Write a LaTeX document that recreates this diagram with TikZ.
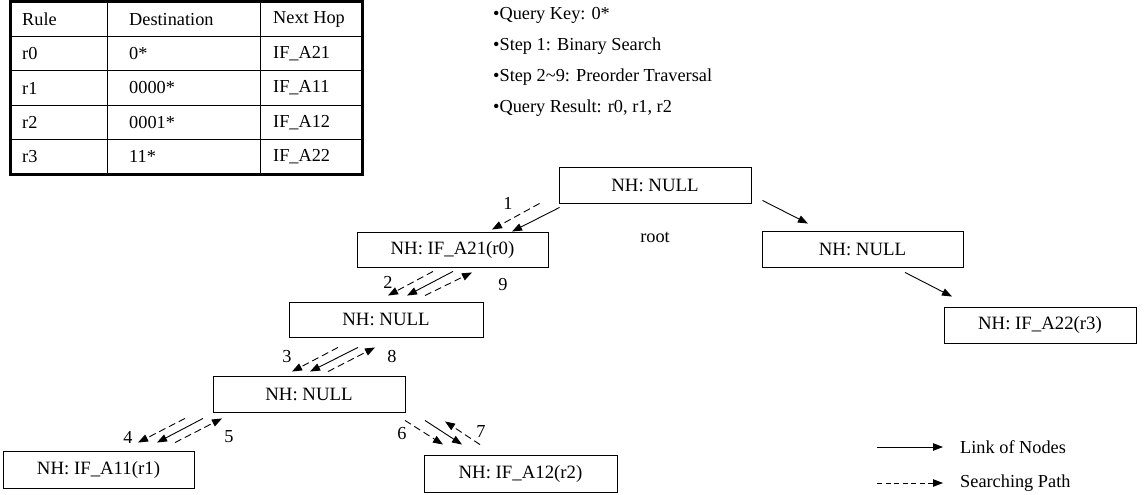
\documentclass[tikz,border=0pt]{standalone}
\usepackage{fontspec}
\setmainfont{Liberation Serif}
\usetikzlibrary{arrows.meta,calc}
\begin{document}
\begin{tikzpicture}[x=1pt,y=-1pt,
  every node/.style={font=\fontsize{18.3}{22}\selectfont, inner sep=0pt},
  treenode/.style={draw, line width=0.9pt, minimum height=36pt, font=\fontsize{18.8}{22}\selectfont},
  cell/.style={anchor=west},
  bullet/.style={anchor=west},
  link/.style={line width=0.9pt, -{Triangle[length=10pt,width=7.5pt]}},
  search/.style={link, dash pattern=on 7pt off 4pt},
  steplabel/.style={}]
\useasboundingbox (0,0) rectangle (1146,495);

% rule table
\draw[line width=0.9pt] (10,36.4) -- (362,36.4) (10,70.8) -- (362,70.8)
  (10,105.2) -- (362,105.2) (10,139.6) -- (362,139.6)
  (107,2) -- (107,174) (260,2) -- (260,174);
\draw[line width=3pt] (10,2) rectangle (362,174);
\node[cell] (h1) at (22,19.2) {Rule};
\node[cell] (h2) at (129,19.2) {Destination};
\node[cell] (h3) at (273,19.2) {Next Hop};
\node[cell] (a1) at (22,53.6) {r0};
\node[cell] (a2) at (129,53.6) {0*};
\node[cell] (a3) at (273,53.6) {IF\_A21};
\node[cell] (b1) at (22,88) {r1};
\node[cell] (b2) at (129,88) {0000*};
\node[cell] (b3) at (273,88) {IF\_A11};
\node[cell] (c1) at (22,122.4) {r2};
\node[cell] (c2) at (129,122.4) {0001*};
\node[cell] (c3) at (273,122.4) {IF\_A12};
\node[cell] (d1) at (22,156.8) {r3};
\node[cell] (d2) at (129,156.8) {11*};
\node[cell] (d3) at (273,156.8) {IF\_A22};

% query notes
\node[bullet] (q1) at (493,15) {•Query Key: 0*};
\node[bullet] (q2) at (493,46) {•Step 1: Binary Search};
\node[bullet] (q3) at (493,77) {•Step 2\textasciitilde 9: Preorder Traversal};
\node[bullet] (q4) at (493,108) {•Query Result: r0, r1, r2};

% tree
\node[treenode, minimum width=192pt] (root) at (655,185) {NH: NULL};
\node (rootlbl) at (655,237) {root};
\node[treenode, minimum width=191pt, minimum height=35pt] (A21) at (452.5,249.5) {NH: IF\_A21(r0)};
\node[treenode, minimum width=201pt] (R) at (862.5,249) {NH: NULL};
\node[treenode, minimum width=192pt] (A22) at (1040,325) {NH: IF\_A22(r3)};
\node[treenode, minimum width=194pt, minimum height=35pt] (N2) at (386,319.5) {NH: NULL};
\node[treenode, minimum width=192pt] (N3) at (309,394) {NH: NULL};
\node[treenode, minimum width=191pt, minimum height=37pt] (A11) at (98.5,469.5) {NH: IF\_A11(r1)};
\node[treenode, minimum width=193pt, minimum height=37pt] (A12) at (520.5,473.5) {NH: IF\_A12(r2)};

% root links
\draw[link] ($(root.south west)+(1,4)$) -- ($(A21.north)+(59.5,0)$);
\draw[search] ($(root.south west)+(-19,0)$) -- ($(A21.north)+(39.5,-2)$);
\node[steplabel] (s1) at (508,203) {1};
\draw[link] ($(root.south east)+(11,-3)$) -- ($(R.north)+(-54.5,-7)$);
\draw[link] ($(R.south)+(42.5,5)$) -- ($(A22.north)+(-88,-10)$);

% A21 -- N2
\draw[search] ($(A21.south)+(-19.5,4)$) -- ($(N2.north)+(2,-6)$);
\draw[link] ($(A21.south)+(0.5,4)$) -- ($(N2.north)+(21,-6)$);
\draw[search] ($(N2.north)+(39,-6)$) -- ($(A21.south)+(19.5,5)$);
\node[steplabel] (s2) at (388,282) {2};
\node[steplabel] (s9) at (503,285) {9};

% N2 -- N3
\draw[search] ($(N2.south)+(-48,10)$) -- ($(N3.north)+(-17,-4)$);
\draw[link] ($(N2.south)+(-28,10)$) -- ($(N3.north)+(1,-4)$);
\draw[search] ($(N3.north)+(19,-4)$) -- ($(N2.south)+(-11,10)$);
\node[steplabel] (s3) at (287,357) {3};
\node[steplabel] (s8) at (392,357) {8};

% N3 -- A11
\draw[search] ($(N3.south)+(-124,6)$) -- ($(A11.north)+(39.5,-8)$);
\draw[link] ($(N3.south)+(-106,6)$) -- ($(A11.north)+(58.5,-8)$);
\draw[search] ($(A11.north)+(76.5,-8)$) -- ($(N3.south)+(-87,6)$);
\node[steplabel] (s4) at (128,437) {4};
\node[steplabel] (s5) at (229,437) {5};

% N3 -- A12
\draw[search] ($(N3.south)+(96,8)$) -- ($(A12.north)+(-77.5,-10)$);
\draw[link] ($(N3.south)+(116,8)$) -- ($(A12.north)+(-58.5,-10)$);
\draw[search] ($(A12.north)+(-40.5,-10)$) -- ($(N3.south)+(136,9)$);
\node[steplabel] (s6) at (402,434) {6};
\node[steplabel] (s7) at (481,432) {7};

% legend
\coordinate (l1a) at (877,447);
\coordinate (l1b) at (943,447);
\coordinate (l2a) at (877,483);
\coordinate (l2b) at (943,483);
\draw[link] (l1a) -- (l1b);
\draw[search, dash pattern=on 5pt off 3.5pt] (l2a) -- (l2b);
\node[anchor=west] (leg1) at (960,447) {Link of Nodes};
\node[anchor=west] (leg2) at (960,483) {Searching Path};
\end{tikzpicture}
\end{document}
